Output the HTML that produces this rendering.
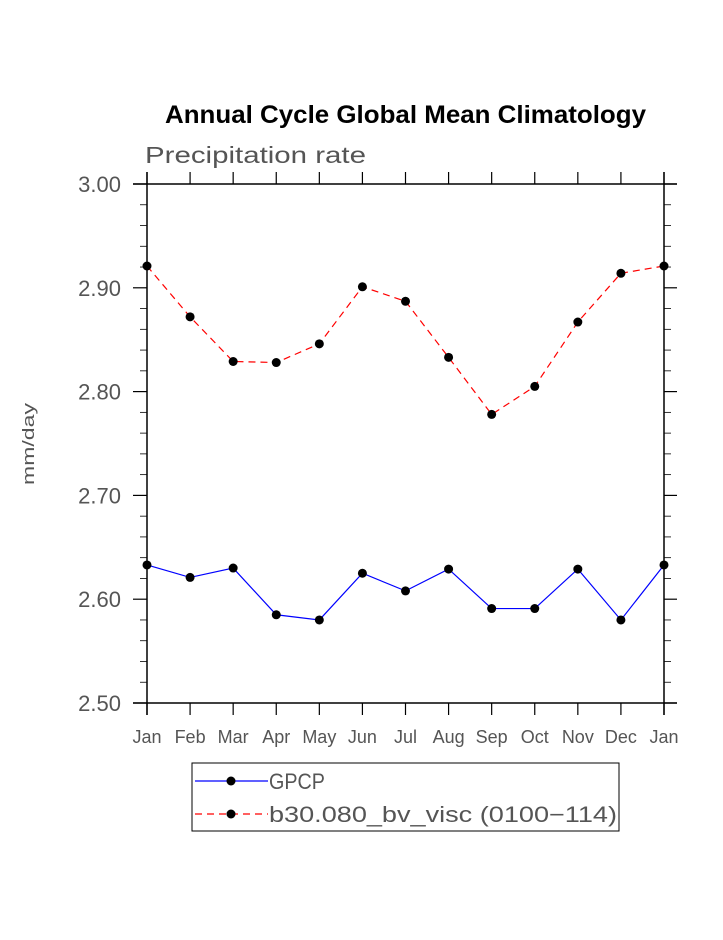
<!DOCTYPE html>
<html><head><meta charset="utf-8"><style>
html,body{margin:0;padding:0;background:#fff;}
text{font-family:"Liberation Sans",sans-serif;}
</style></head><body>
<svg id="chart" width="723" height="935" xmlns="http://www.w3.org/2000/svg">
<text x="165" y="123" font-size="25" font-weight="bold" fill="#000" textLength="481" lengthAdjust="spacingAndGlyphs">Annual Cycle Global Mean Climatology</text>
<text x="145" y="163" font-size="23" fill="#555" textLength="221" lengthAdjust="spacingAndGlyphs">Precipitation rate</text>
<text transform="translate(34,444) rotate(-90)" text-anchor="middle" font-size="17" fill="#555" textLength="82" lengthAdjust="spacingAndGlyphs">mm/day</text>
<g id="axes"></g>
<g id="series"></g>
<g>
<rect x="192" y="763" width="427" height="68" fill="none" stroke="#000" stroke-width="1"/>
<line x1="195" y1="781" x2="268" y2="781" stroke="#00f" stroke-width="1.2"/>
<circle cx="231" cy="781" r="4.5" fill="#000"/>
<text x="269" y="789" font-size="22" fill="#555" textLength="56" lengthAdjust="spacingAndGlyphs">GPCP</text>
<line x1="195" y1="814" x2="268" y2="814" stroke="#f00" stroke-width="1.2" stroke-dasharray="7,5"/>
<circle cx="231" cy="814" r="4.5" fill="#000"/>
<text x="269" y="822" font-size="22" fill="#555" textLength="348" lengthAdjust="spacingAndGlyphs">b30.080_bv_visc (0100−114)</text>
</g>
</svg>
<script>
const months = ["Jan","Feb","Mar","Apr","May","Jun","Jul","Aug","Sep","Oct","Nov","Dec","Jan"];
const gpcp = [2.633,2.621,2.630,2.585,2.580,2.625,2.608,2.629,2.591,2.591,2.629,2.580,2.633];
const model = [2.921,2.872,2.829,2.828,2.846,2.901,2.887,2.833,2.778,2.805,2.867,2.914,2.921];
const yTicks = ["2.50","2.60","2.70","2.80","2.90","3.00"];
const NS="http://www.w3.org/2000/svg";
const L=147,R=664,T=184,B=703,ymin=2.5,ymax=3.0;
const xs=i=>L+(R-L)*i/(months.length-1);
const ys=v=>B-(v-ymin)/(ymax-ymin)*(B-T);
function mk(tag,attrs,parent){const e=document.createElementNS(NS,tag);for(const k in attrs)e.setAttribute(k,attrs[k]);parent.appendChild(e);return e;}
const ax=document.getElementById('axes');
mk('line',{x1:133,y1:T,x2:677,y2:T,stroke:'#000','stroke-width':1.5},ax);
mk('line',{x1:133,y1:B,x2:677,y2:B,stroke:'#000','stroke-width':1.5},ax);
mk('line',{x1:L,y1:172,x2:L,y2:715,stroke:'#000','stroke-width':1.5},ax);
mk('line',{x1:R,y1:172,x2:R,y2:715,stroke:'#000','stroke-width':1.5},ax);
months.forEach((m,i)=>{
  const x=xs(i);
  mk('line',{x1:x,y1:172,x2:x,y2:T,stroke:'#000','stroke-width':1.2},ax);
  mk('line',{x1:x,y1:B,x2:x,y2:715,stroke:'#000','stroke-width':1.2},ax);
  const t=mk('text',{x:x,y:743,'text-anchor':'middle','font-size':18,fill:'#555'},ax);
  
  
  t.textContent=m;
});
for(let k=0;k<=25;k++){
  const v=ymin+k*0.02,y=ys(v);const major=k%5===0;
  mk('line',{x1:major?133:140,y1:y,x2:L,y2:y,stroke:'#000','stroke-width':major?1.2:0.8},ax);
  mk('line',{x1:R,y1:y,x2:major?677:671,y2:y,stroke:'#000','stroke-width':major?1.2:0.8},ax);
}
yTicks.forEach(s=>{
  const t=mk('text',{x:121,y:ys(parseFloat(s))+8,'text-anchor':'end','font-size':22,fill:'#555'},ax);
  
  
  t.textContent=s;
});
const sg=document.getElementById('series');
function drawSeries(vals,color,dash,name){
  const p=mk('polyline',{points:vals.map((v,i)=>xs(i)+','+ys(v)).join(' '),fill:'none',stroke:color,'stroke-width':1.2},sg);
  if(dash)p.setAttribute('stroke-dasharray',dash);
  
  
  vals.forEach((v,i)=>{
    const c=mk('circle',{cx:xs(i),cy:ys(v),r:4.5,fill:'#000'},sg);
    
    
  });
}
drawSeries(gpcp,'#00f',null,'gpcp');
drawSeries(model,'#f00','7,5','model');
</script>
</body></html>
